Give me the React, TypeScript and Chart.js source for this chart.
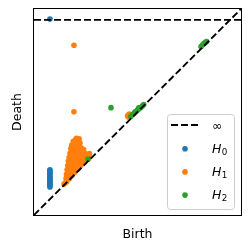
import React, { useEffect, useRef } from "react";
import { Chart, registerables } from "chart.js";

Chart.register(...registerables);

// ---- texts ----
const xTitle = "Birth";
const yTitle = "Death";
const infinityLabel = "∞";
const seriesNames = ["H0", "H1", "H2"];
const seriesColors = ["#1f77b4", "#ff7f0e", "#2ca02c"];

// ---- axis range and the "infinity" level ----
const axisMin = 0;
const axisMax = 1;
const infinityLevel = 0.947;

// ---- H0 ----
const h0Births = [0.077, 0.077, 0.077, 0.077, 0.077, 0.077, 0.077, 0.077, 0.077, 0.077, 0.077, 0.077, 0.077, 0.077, 0.077];
const h0Deaths = [0.951, 0.136, 0.141, 0.149, 0.155, 0.160, 0.168, 0.174, 0.182, 0.187, 0.195, 0.201, 0.208, 0.214, 0.220];

// ---- H1 ----
const h1Births = [
  0.193, 0.193, 0.452, 0.460, 0.456,
  0.145, 0.152, 0.158,
  0.155, 0.162, 0.170,
  0.157, 0.165, 0.175, 0.183,
  0.160, 0.168, 0.178, 0.188, 0.196,
  0.163, 0.172, 0.182, 0.192, 0.202, 0.210,
  0.166, 0.175, 0.186, 0.196, 0.206, 0.216, 0.226,
  0.170, 0.180, 0.190, 0.200, 0.212, 0.222, 0.234, 0.244,
  0.174, 0.184, 0.195, 0.206, 0.218, 0.230, 0.240, 0.252, 0.262, 0.268, 0.265,
  0.178, 0.188, 0.200, 0.212, 0.224, 0.236, 0.248, 0.256,
  0.182, 0.192, 0.204, 0.216, 0.228, 0.240,
  0.190, 0.200, 0.212, 0.222,
  0.205, 0.218,
];
const h1Deaths = [
  0.824, 0.501, 0.482, 0.490, 0.476,
  0.150, 0.158, 0.162,
  0.178, 0.182, 0.176,
  0.198, 0.204, 0.196, 0.190,
  0.220, 0.224, 0.218, 0.212, 0.206,
  0.240, 0.244, 0.238, 0.234, 0.228, 0.222,
  0.262, 0.258, 0.264, 0.256, 0.250, 0.246, 0.240,
  0.280, 0.284, 0.276, 0.282, 0.272, 0.266, 0.260, 0.256,
  0.300, 0.304, 0.298, 0.302, 0.294, 0.288, 0.280, 0.270, 0.272, 0.298, 0.285,
  0.322, 0.318, 0.324, 0.318, 0.312, 0.306, 0.298, 0.292,
  0.340, 0.344, 0.338, 0.334, 0.326, 0.318,
  0.358, 0.364, 0.356, 0.350,
  0.372, 0.370,
];

// ---- H2 ----
const h2Births = [0.372, 0.261, 0.468, 0.476, 0.484, 0.492, 0.500, 0.508, 0.516, 0.524, 0.530, 0.488, 0.506, 0.807, 0.815, 0.821, 0.828, 0.834];
const h2Deaths = [0.521, 0.272, 0.478, 0.488, 0.494, 0.502, 0.510, 0.516, 0.522, 0.530, 0.536, 0.500, 0.520, 0.818, 0.826, 0.832, 0.838, 0.842];

const pairs = (xs: number[], ys: number[]) => xs.map((x, i) => ({ x, y: ys[i] }));

const FONT = "DejaVu Sans";

const framePlugin = {
  id: "frame",
  afterDatasetsDraw(chart: any) {
    const { ctx, chartArea } = chart;
    const l = Math.round(chartArea.left) - 0.5;
    const t = Math.round(chartArea.top) - 0.5;
    const r = Math.round(chartArea.right) + 0.5;
    const b = Math.round(chartArea.bottom) + 0.5;
    ctx.save();
    ctx.strokeStyle = "#000";
    ctx.lineWidth = 1;
    ctx.strokeRect(l, t, r - l, b - t);
    ctx.restore();
  },
};

const legendPlugin = {
  id: "mplLegend",
  afterDraw(chart: any) {
    const { ctx, chartArea } = chart;
    const bx = chartArea.right - 74;
    const by = chartArea.bottom - 101;
    const bw = 67;
    const bh = 95;
    ctx.save();
    ctx.beginPath();
    ctx.roundRect(bx + 0.5, by + 0.5, bw, bh, 3);
    ctx.fillStyle = "rgba(255,255,255,0.8)";
    ctx.fill();
    ctx.strokeStyle = "#cccccc";
    ctx.lineWidth = 1;
    ctx.stroke();

    const handleX0 = bx + 4;
    const handleX1 = bx + 31;
    const textX = bx + 45;
    // infinity entry
    let y = by + 11;
    ctx.beginPath();
    ctx.setLineDash([7, 3]);
    ctx.lineWidth = 1.9;
    ctx.strokeStyle = "#000";
    ctx.moveTo(handleX0, y);
    ctx.lineTo(handleX1, y);
    ctx.stroke();
    ctx.setLineDash([]);
    ctx.fillStyle = "#000";
    ctx.textBaseline = "alphabetic";
    ctx.font = `12.5px "${FONT}"`;
    ctx.fillText(infinityLabel, textX, y + 4.5);

    seriesNames.forEach((name, i) => {
      const cy = by + 34.7 + i * 23.2;
      ctx.beginPath();
      ctx.arc(bx + 18, cy, 2.8, 0, Math.PI * 2);
      ctx.fillStyle = seriesColors[i];
      ctx.fill();
      ctx.fillStyle = "#000";
      const letter = name.slice(0, 1);
      const sub = name.slice(1);
      ctx.font = `italic 12.5px "${FONT}"`;
      ctx.fillText(letter, textX, cy + 4.3);
      const w = ctx.measureText(letter).width;
      ctx.font = `8.75px "${FONT}"`;
      ctx.fillText(sub, textX + w + 0.3, cy + 6.2);
    });
    ctx.restore();
  },
};

export default function App() {
  const ref = useRef<HTMLCanvasElement>(null);
  useEffect(() => {
    if (!ref.current) return;
    Chart.defaults.font.family = FONT;
    const lineStyle = {
      showLine: true,
      borderColor: "#000",
      borderWidth: 1.9,
      borderDash: [7, 3],
      pointRadius: 0,
      pointHoverRadius: 0,
      order: 0,
    };
    const chart = new Chart(ref.current, {
      type: "scatter",
      data: {
        datasets: [
          { label: "diagonal", data: [{ x: axisMin, y: axisMin }, { x: axisMax, y: axisMax }], ...lineStyle } as any,
          { label: infinityLabel, data: [{ x: axisMin, y: infinityLevel }, { x: axisMax, y: infinityLevel }], ...lineStyle } as any,
          { label: seriesNames[0], data: pairs(h0Births, h0Deaths), backgroundColor: seriesColors[0], borderWidth: 0, pointRadius: 2.8, order: 3 },
          { label: seriesNames[1], data: pairs(h1Births, h1Deaths), backgroundColor: seriesColors[1], borderWidth: 0, pointRadius: 2.8, order: 2 },
          { label: seriesNames[2], data: pairs(h2Births, h2Deaths), backgroundColor: seriesColors[2], borderWidth: 0, pointRadius: 2.8, order: 1 },
        ],
      },
      options: {
        responsive: false,
        animation: false,
        devicePixelRatio: 1,
        layout: { padding: { left: 0, top: 9, right: 9, bottom: 0 } },
        plugins: { legend: { display: false }, tooltip: { enabled: false } },
        scales: {
          x: {
            type: "linear",
            min: axisMin,
            max: axisMax,
            ticks: { display: false },
            grid: { display: false, drawTicks: false },
            border: { display: false },
            title: { display: true, text: xTitle, color: "#000", font: { family: FONT, size: 12.5 }, padding: { top: 12, bottom: 8 } },
          },
          y: {
            type: "linear",
            min: axisMin,
            max: axisMax,
            ticks: { display: false },
            grid: { display: false, drawTicks: false },
            border: { display: false },
            title: { display: true, text: yTitle, color: "#000", font: { family: FONT, size: 12.5 }, padding: { top: 9.8, bottom: 9.2 } },
          },
        },
      },
      plugins: [framePlugin, legendPlugin],
    });
    return () => chart.destroy();
  }, []);
  return (
    <div style={{ position: "fixed", left: 0, top: 0, width: 250, height: 250, background: "#fff" }}>
      <canvas ref={ref} width={250} height={250} style={{ display: "block" }} />
    </div>
  );
}
